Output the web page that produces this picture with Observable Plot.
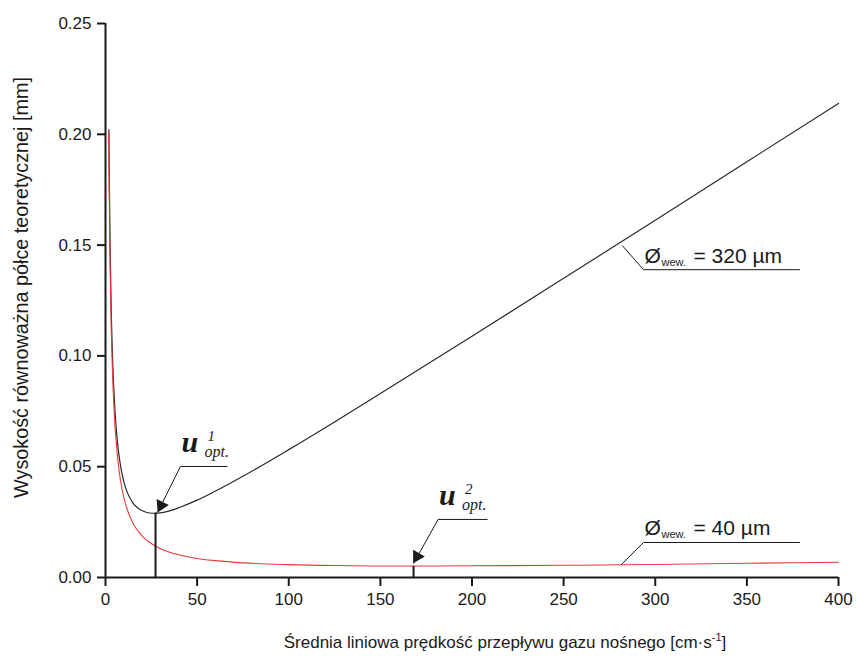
<!DOCTYPE html>
<html><head><meta charset="utf-8">
<script src="https://cdn.jsdelivr.net/npm/d3@7"></script>
<script src="https://cdn.jsdelivr.net/npm/@observablehq/plot@0.6"></script>
<style>body{margin:0;background:#fff}</style>
</head><body><div id="chart"></div>
<script>
// Series: column inner diameter 320 µm (black) and 40 µm (red)
const uBlack = [1.85,2,2.5,3,4,5,6,7,8,10,12,15,18,21,24,27,30,35,40,50,60,75,100,125,150,200,250,300,350,400];
const hBlack = [0.2020,0.1871,0.1503,0.1259,0.0956,0.0777,0.0658,0.0576,0.0515,0.0433,0.0382,0.0336,0.0311,0.0298,0.0291,0.0290,0.0292,0.0301,0.0315,0.0349,0.0390,0.0457,0.0577,0.0702,0.0830,0.1089,0.1350,0.1612,0.1876,0.2139];
const uRed = [1.75,2,2.5,3,4,5,6,7,8,10,12,15,18,21,24,27,30,35,40,50,60,75,100,125,150,168,200,250,300,350,400];
const hRed = [0.2010,0.1760,0.1410,0.1177,0.0886,0.0711,0.0594,0.0511,0.0448,0.0361,0.0303,0.0245,0.0207,0.0179,0.0159,0.0143,0.0130,0.0114,0.0103,0.0086,0.0076,0.0066,0.0058,0.0054,0.0052,0.0052,0.0053,0.0055,0.0059,0.0064,0.0069];

// Axes
const xTicks = [0,50,100,150,200,250,300,350,400];
const yTicks = [0,0.05,0.10,0.15,0.20,0.25];
const xLabel = "Średnia liniowa prędkość przepływu gazu nośnego [cm·s-1]";
const yLabel = "Wysokość równoważna półce teoretycznej [mm]";

// Optimum velocity annotations
const uOpt = [27.3, 168.1];
const hOpt = [0.0291, 0.0050];
const optSup = ["1", "2"];
const arrowX1 = [40.9, 181.5];
const arrowY1 = [0.0501, 0.0262];
const arrowX2 = [28.4, 168.1];
const arrowY2 = [0.0293, 0.0063];
const arrowAngle = [206, 210];
const shelfEndX = [66.5, 208.5];

// Diameter labels
const diamText = ["= 320 µm", "= 40 µm"];
const leaderX = [[282.1, 293.6, 378.7], [281.6, 293.6, 378.7]];
const leaderY = [[0.1497, 0.1389, 0.1389], [0.0059, 0.0158, 0.0158]];

const black = uBlack.map((u, i) => ({u, h: hBlack[i]}));
const red = uRed.map((u, i) => ({u, h: hRed[i]}));
const opt = uOpt.map((u, i) => ({u, h: hOpt[i], sup: optSup[i], x1: arrowX1[i], y1: arrowY1[i], x2: arrowX2[i], y2: arrowY2[i], a: arrowAngle[i], xe: shelfEndX[i]}));
const leaders = leaderX.flatMap((xs, k) => xs.map((x, j) => ({k, x, y: leaderY[k][j]})));
const diam = diamText.map((t, k) => ({t, x: leaderX[k][1], y: leaderY[k][1]}));

const ink = "#1a1a1a";
const serif = "'Liberation Serif', 'Times New Roman', serif";

const chart = Plot.plot({
  width: 856, height: 656,
  marginLeft: 105, marginRight: 18, marginTop: 23, marginBottom: 79,
  style: {fontFamily: "'Liberation Sans', Arial, sans-serif", fontSize: "17px", color: ink, background: "#fff", overflow: "visible"},
  x: {domain: [0, 400]},
  y: {domain: [0, 0.25]},
  marks: [
    Plot.axisX({ticks: xTicks, tickSize: 9, tickPadding: 6, label: null, strokeWidth: 2, stroke: ink, fontSize: 17}),
    Plot.axisY({ticks: yTicks, tickFormat: d3.format(".2f"), tickSize: 8, tickPadding: 6, label: null, strokeWidth: 2, stroke: ink, fontSize: 17}),
    Plot.ruleX([0], {y1: 0, y2: 0.25, stroke: ink, strokeWidth: 2}),
    Plot.ruleY([0], {x1: 0, x2: 400, stroke: ink, strokeWidth: 2}),
    Plot.line(black, {x: "u", y: "h", stroke: "#2a2a2a", strokeWidth: 1.2, curve: "monotone-x"}),
    Plot.line(red, {x: "u", y: "h", stroke: "#e33a3a", strokeWidth: 1.1, curve: "monotone-x"}),
    Plot.ruleX(opt, {x: "u", y1: 0, y2: "h", stroke: ink, strokeWidth: 2}),
    Plot.link(opt, {x1: "x1", y1: "y1", x2: "x2", y2: "y2", stroke: ink, strokeWidth: 1}),
    Plot.dot(opt, {x: "x2", y: "y2", symbol: "triangle", r: 5, fill: ink, stroke: "none", rotate: "a", dx: 3.5, dy: -7}),
    Plot.link(opt, {x1: "x1", y1: "y1", x2: "xe", y2: "y1", stroke: ink, strokeWidth: 1}),
    Plot.text(opt, {x: "x1", y: "y1", text: () => "u", fontFamily: serif, fontStyle: "italic", fontWeight: "bold", fontSize: 30, textAnchor: "start", lineAnchor: "bottom", dx: 1, dy: -14, fill: ink}),
    Plot.text(opt, {x: "x1", y: "y1", text: "sup", fontFamily: serif, fontStyle: "italic", fontSize: 15, textAnchor: "start", lineAnchor: "bottom", dx: 27, dy: -25, fill: ink}),
    Plot.text(opt, {x: "x1", y: "y1", text: () => "opt.", fontFamily: serif, fontStyle: "italic", fontSize: 16, textAnchor: "start", lineAnchor: "bottom", dx: 24, dy: -9, fill: ink}),
    Plot.line(leaders, {x: "x", y: "y", z: "k", stroke: ink, strokeWidth: 1}),
    Plot.text(diam, {x: "x", y: "y", text: () => "Ø", fontSize: 21, textAnchor: "start", lineAnchor: "bottom", dx: 1, dy: -7, fill: ink}),
    Plot.text(diam, {x: "x", y: "y", text: () => "wew.", fontSize: 11, textAnchor: "start", lineAnchor: "bottom", dx: 18, dy: -4, fill: ink}),
    Plot.text(diam, {x: "x", y: "y", text: "t", fontSize: 21, textAnchor: "start", lineAnchor: "bottom", dx: 50, dy: -7, fill: ink}),
    Plot.text([xLabel], {frameAnchor: "bottom", textAnchor: "middle", lineAnchor: "bottom", dy: 70, dx: 33, fontSize: 17, fill: ink}),
    Plot.text([yLabel], {frameAnchor: "left", textAnchor: "middle", rotate: -90, dx: -84, dy: -13, fontSize: 19.8, fill: ink})
  ]
});
document.getElementById("chart").appendChild(chart);

// superscript for the unit in the x-axis title
chart.querySelectorAll("text").forEach(t => {
  if (t.textContent === xLabel) {
    const ns = "http://www.w3.org/2000/svg";
    t.textContent = "Średnia liniowa prędkość przepływu gazu nośnego [cm·s";
    const sup = document.createElementNS(ns, "tspan");
    sup.setAttribute("dy", "-7"); sup.setAttribute("font-size", "11"); sup.textContent = "-1";
    const close = document.createElementNS(ns, "tspan");
    close.setAttribute("dy", "7"); close.textContent = "]";
    t.appendChild(sup); t.appendChild(close);
  }
});
</script></body></html>
